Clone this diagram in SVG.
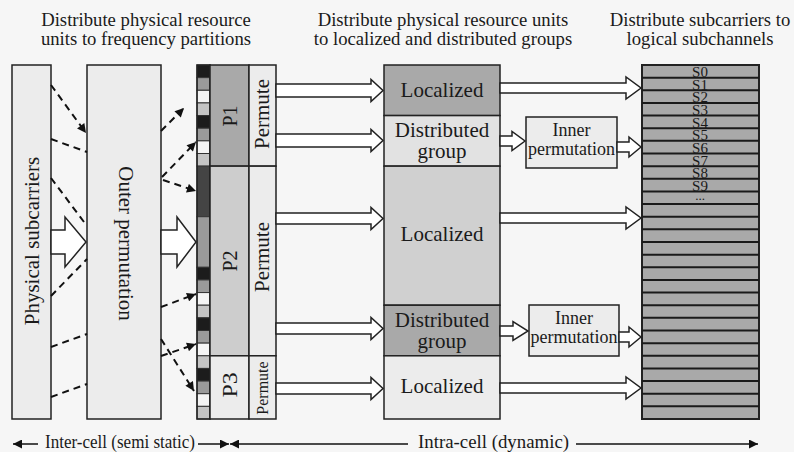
<svg xmlns="http://www.w3.org/2000/svg" width="794" height="452" viewBox="0 0 794 452">
<defs>
<marker id="ah" viewBox="0 0 10 10" refX="10" refY="5" markerWidth="10" markerHeight="9" orient="auto" markerUnits="userSpaceOnUse"><path d="M0,0 L10,5 L0,10 z" fill="#111"/></marker>
<marker id="bh" viewBox="0 0 10 10" refX="10" refY="5" markerWidth="11" markerHeight="9" orient="auto" markerUnits="userSpaceOnUse"><path d="M0,0 L10,5 L0,10 z" fill="#111"/></marker>
<style>
text{font-family:"Liberation Serif","Times New Roman",serif;fill:#1a1a1a}
.t{font-size:18.7px;text-anchor:middle}
.box{stroke:#222;stroke-width:1.5}
.l1{fill:#ececec}
.dash{fill:none;stroke:#111;stroke-width:2;stroke-dasharray:7 5;marker-end:url(#ah)}
.dashn{fill:none;stroke:#111;stroke-width:2;stroke-dasharray:7 5}
.ha{fill:#fff;stroke:#222;stroke-width:1.5;stroke-linejoin:miter}
.lab{font-size:21px;text-anchor:middle}
.sm{font-size:18px;text-anchor:middle}
.s{font-size:15px;text-anchor:middle}
.cb{fill:#1c1c1c}.cg{fill:#9a9a9a}.cw{fill:#f4f4f4}.cl{fill:#c4c4c4}.cd{fill:#444}
.cell{stroke:#333;stroke-width:1}
.row{stroke:#1a1a1a;stroke-width:2}
.axis{stroke:#111;stroke-width:1.5;fill:none}
</style>
</defs>
<rect x="0" y="0" width="794" height="452" fill="#f6f6f6"/>

<g id="titles">
<text class="t" x="146" y="26">Distribute physical resource</text>
<text class="t" x="146" y="45">units to frequency partitions</text>
<text class="t" x="443" y="26">Distribute physical resource units</text>
<text class="t" x="443" y="45">to localized and distributed groups</text>
<text class="t" x="700" y="26">Distribute subcarriers to</text>
<text class="t" x="700" y="45">logical subchannels</text>
</g>

<g id="physical-subcarriers">
<rect class="box l1" x="12" y="65" width="39" height="354"/>
<text class="lab" transform="translate(39,241) rotate(-90)">Physical subcarriers</text>
</g>

<g id="outer-permutation">
<rect class="box l1" x="87" y="65" width="74" height="354"/>
<text class="lab" transform="translate(119,243.5) rotate(90)">Outer permutation</text>
</g>

<g id="strip">
<rect class="cell cb" x="197" y="65" width="13" height="12.64"/>
<rect class="cell cg" x="197" y="77.64" width="13" height="12.64"/>
<rect class="cell cw" x="197" y="90.29" width="13" height="12.64"/>
<rect class="cell cl" x="197" y="102.93" width="13" height="12.64"/>
<rect class="cell cb" x="197" y="115.57" width="13" height="12.64"/>
<rect class="cell cg" x="197" y="128.21" width="13" height="12.64"/>
<rect class="cell cw" x="197" y="140.86" width="13" height="12.64"/>
<rect class="cell cl" x="197" y="153.5" width="13" height="12.64"/>
<rect class="cell cd" x="197" y="166.14" width="13" height="50.57"/>
<rect class="cell cg" x="197" y="216.71" width="13" height="50.58"/>
<rect class="cell cb" x="197" y="267.29" width="13" height="12.64"/>
<rect class="cell cg" x="197" y="279.93" width="13" height="12.64"/>
<rect class="cell cw" x="197" y="292.57" width="13" height="12.64"/>
<rect class="cell cl" x="197" y="305.21" width="13" height="12.64"/>
<rect class="cell cb" x="197" y="317.86" width="13" height="12.64"/>
<rect class="cell cg" x="197" y="330.5" width="13" height="12.64"/>
<rect class="cell cw" x="197" y="343.14" width="13" height="12.64"/>
<rect class="cell cl" x="197" y="355.79" width="13" height="12.64"/>
<rect class="cell cb" x="197" y="368.43" width="13" height="12.64"/>
<rect class="cell cg" x="197" y="381.07" width="13" height="12.64"/>
<rect class="cell cw" x="197" y="393.71" width="13" height="12.64"/>
<rect class="cell cl" x="197" y="406.36" width="13" height="12.64"/>
<rect x="197" y="65" width="13" height="354" fill="none" stroke="#222" stroke-width="1.5"/>
</g>

<g id="p1">
<rect class="box" x="210" y="65" width="39" height="101.14" fill="#a9a9a9"/>
<text class="lab" style="font-size:20px" transform="translate(237,116) rotate(-90)">P1</text>
</g>
<g id="p2">
<rect class="box" x="210" y="166.14" width="39" height="189.65" fill="#cdcdcd"/>
<text class="lab" style="font-size:20px" transform="translate(237,261) rotate(-90)">P2</text>
</g>
<g id="p3">
<rect class="box l1" x="210" y="355.79" width="39" height="63.21"/>
<text class="lab" style="font-size:20px" transform="translate(237,385) rotate(-90)" textLength="25" lengthAdjust="spacingAndGlyphs">P3</text>
</g>
<g id="permute1">
<rect class="box l1" x="249" y="65" width="27" height="101.14"/>
<text class="lab" transform="translate(269,114) rotate(-90)">Permute</text>
</g>
<g id="permute2">
<rect class="box l1" x="249" y="166.14" width="27" height="189.65"/>
<text class="lab" transform="translate(269,257) rotate(-90)">Permute</text>
</g>
<g id="permute3">
<rect class="box l1" x="249" y="355.79" width="27" height="63.21"/>
<text class="lab" style="font-size:16px" transform="translate(268,388) rotate(-90)">Permute</text>
</g>

<g id="localized1">
<rect class="box" x="384" y="65" width="116" height="50.57" fill="#a9a9a9"/>
<text class="lab" x="442" y="97">Localized</text>
</g>
<g id="distributed1">
<rect class="box" x="384" y="115.57" width="116" height="50.57" fill="#e2e2e2"/>
<text class="lab" x="442" y="137">Distributed</text>
<text class="lab" x="442" y="158">group</text>
</g>
<g id="localized2">
<rect class="box" x="384" y="166.14" width="116" height="139.07" fill="#d0d0d0"/>
<text class="lab" x="442" y="241">Localized</text>
</g>
<g id="distributed2">
<rect class="box" x="384" y="305.21" width="116" height="50.58" fill="#a9a9a9"/>
<text class="lab" x="442" y="327">Distributed</text>
<text class="lab" x="442" y="348">group</text>
</g>
<g id="localized3">
<rect class="box l1" x="384" y="355.79" width="116" height="63.21"/>
<text class="lab" x="442" y="393">Localized</text>
</g>

<g id="inner1">
<rect class="box l1" x="526" y="117" width="91" height="51"/>
<text class="sm" x="571.5" y="136">Inner</text>
<text class="sm" x="571.5" y="155">permutation</text>
</g>
<g id="inner2">
<rect class="box l1" x="529" y="305" width="90" height="51"/>
<text class="sm" x="574" y="324">Inner</text>
<text class="sm" x="574" y="343">permutation</text>
</g>

<g id="subchannels">
<rect x="642" y="65" width="117" height="354" fill="#a9a9a9" stroke="#222" stroke-width="2"/>
<line class="row" x1="642" x2="759" y1="77.64" y2="77.64"/>
<line class="row" x1="642" x2="759" y1="90.29" y2="90.29"/>
<line class="row" x1="642" x2="759" y1="102.93" y2="102.93"/>
<line class="row" x1="642" x2="759" y1="115.57" y2="115.57"/>
<line class="row" x1="642" x2="759" y1="128.21" y2="128.21"/>
<line class="row" x1="642" x2="759" y1="140.86" y2="140.86"/>
<line class="row" x1="642" x2="759" y1="153.5" y2="153.5"/>
<line class="row" x1="642" x2="759" y1="166.14" y2="166.14"/>
<line class="row" x1="642" x2="759" y1="178.79" y2="178.79"/>
<line class="row" x1="642" x2="759" y1="191.43" y2="191.43"/>
<line class="row" x1="642" x2="759" y1="204.07" y2="204.07"/>
<line class="row" x1="642" x2="759" y1="216.71" y2="216.71"/>
<line class="row" x1="642" x2="759" y1="229.36" y2="229.36"/>
<line class="row" x1="642" x2="759" y1="242" y2="242"/>
<line class="row" x1="642" x2="759" y1="254.64" y2="254.64"/>
<line class="row" x1="642" x2="759" y1="267.29" y2="267.29"/>
<line class="row" x1="642" x2="759" y1="279.93" y2="279.93"/>
<line class="row" x1="642" x2="759" y1="292.57" y2="292.57"/>
<line class="row" x1="642" x2="759" y1="305.21" y2="305.21"/>
<line class="row" x1="642" x2="759" y1="317.86" y2="317.86"/>
<line class="row" x1="642" x2="759" y1="330.5" y2="330.5"/>
<line class="row" x1="642" x2="759" y1="343.14" y2="343.14"/>
<line class="row" x1="642" x2="759" y1="355.79" y2="355.79"/>
<line class="row" x1="642" x2="759" y1="368.43" y2="368.43"/>
<line class="row" x1="642" x2="759" y1="381.07" y2="381.07"/>
<line class="row" x1="642" x2="759" y1="393.71" y2="393.71"/>
<line class="row" x1="642" x2="759" y1="406.36" y2="406.36"/>
<text class="s" x="700" y="77">S0</text>
<text class="s" x="700" y="89.6">S1</text>
<text class="s" x="700" y="102.3">S2</text>
<text class="s" x="700" y="114.9">S3</text>
<text class="s" x="700" y="127.6">S4</text>
<text class="s" x="700" y="140.2">S5</text>
<text class="s" x="700" y="152.9">S6</text>
<text class="s" x="700" y="165.5">S7</text>
<text class="s" x="700" y="178.2">S8</text>
<text class="s" x="700" y="190.8">S9</text>
<text x="700" y="200" style="font-size:13px;text-anchor:middle">...</text>
</g>

<g id="connectors">
<line class="dash" x1="51" y1="85" x2="86" y2="133"/>
<line class="dashn" x1="51" y1="139" x2="87" y2="152"/>
<line class="dashn" x1="51" y1="178" x2="87" y2="226"/>
<line class="dashn" x1="51" y1="296" x2="87" y2="259"/>
<line class="dashn" x1="51" y1="347" x2="87" y2="334"/>
<line class="dashn" x1="51" y1="397" x2="87" y2="384"/>
<line class="dash" x1="161" y1="131" x2="184" y2="108"/>
<line class="dash" x1="162" y1="177" x2="196" y2="142"/>
<line class="dash" x1="163" y1="180" x2="196" y2="191"/>
<line class="dash" x1="161" y1="307" x2="196" y2="294"/>
<line class="dash" x1="161" y1="356" x2="196" y2="344"/>
<line class="dash" x1="161" y1="339" x2="194" y2="391"/>
<polygon class="ha" points="51,230 65,230 65,217 86,242 65,267 65,254 51,254"/>
<polygon class="ha" points="161,230 177,230 177,217 196,242 177,267 177,254 161,254"/>
<polygon class="ha" points="276,84 371,84 371,79.5 383,90.5 371,101.5 371,97 276,97"/>
<polygon class="ha" points="276,134 371,134 371,129.5 383,140.5 371,151.5 371,147 276,147"/>
<polygon class="ha" points="276,213 371,213 371,207.5 383,218.5 371,229.5 371,224 276,224"/>
<polygon class="ha" points="276,323 371,323 371,317.5 383,328.5 371,339.5 371,334 276,334"/>
<polygon class="ha" points="276,383 371,383 371,377.5 383,388.5 371,399.5 371,394 276,394"/>
<polygon class="ha" points="500,83 626,83 626,77 641,88 626,99 626,93 500,93"/>
<polygon class="ha" points="500,213 626,213 626,207 641,218 626,229 626,223 500,223"/>
<polygon class="ha" points="500,383 626,383 626,377 641,388 626,399 626,393 500,393"/>
<polygon class="ha" points="500,136 512,136 512,131.5 525,141 512,150.5 512,146 500,146"/>
<polygon class="ha" points="500,326 513,326 513,321.5 528,331 513,340.5 513,336 500,336"/>
<polygon class="ha" points="617,142 629,142 629,137 641,147 629,157 629,152 617,152"/>
<polygon class="ha" points="619,332 629,332 629,327 641,337 629,347 629,342 619,342"/>
</g>

<g id="axis">
<line class="axis" x1="38" y1="444" x2="13" y2="444" marker-end="url(#bh)"/>
<text x="45" y="448" style="font-size:18px" textLength="150" lengthAdjust="spacingAndGlyphs">Inter-cell (semi static)</text>
<line class="axis" x1="198" y1="444" x2="229" y2="444" marker-end="url(#bh)"/>
<line class="axis" x1="408" y1="444" x2="230" y2="444" marker-end="url(#bh)"/>
<text x="418" y="448" style="font-size:18px" textLength="151" lengthAdjust="spacingAndGlyphs">Intra-cell (dynamic)</text>
<line class="axis" x1="576" y1="444" x2="758" y2="444" marker-end="url(#bh)"/>
</g>
</svg>
